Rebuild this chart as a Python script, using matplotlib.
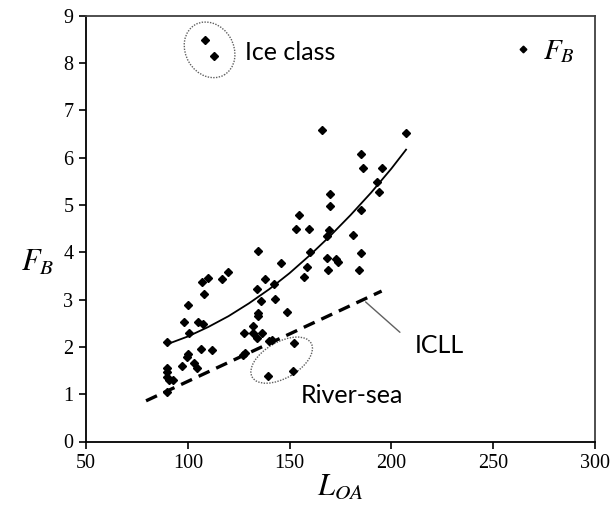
import matplotlib
matplotlib.use("Agg")
import matplotlib.pyplot as plt
from matplotlib.patches import Ellipse
from matplotlib.transforms import ScaledTranslation
from matplotlib.lines import Line2D

plt.rcParams['mathtext.fontset'] = 'stix'
plt.rcParams['font.family'] = ['Liberation Serif', 'DejaVu Serif']

# ---- data ----
loa = [108.4, 112.9,
       207.2, 166.1, 184.9, 186.2, 195.5, 192.8, 193.9, 169.8, 169.8, 184.9, 154.6,
       153.0, 159.5, 169.5, 168.2, 181.0, 134.3, 160.0, 185.1, 168.2, 172.6, 173.6,
       145.6, 158.7, 168.7, 184.2, 157.1, 137.9, 142.5, 134.0, 135.8, 142.8,
       106.8, 109.8, 107.8, 117.0, 119.9, 100.2, 98.3, 105.2, 107.3, 100.7, 89.9,
       100.2, 99.5, 97.0, 106.3, 112.0, 103.0, 104.4, 89.9, 89.9, 89.9, 90.8, 92.9, 89.9,
       134.3, 134.6, 148.9, 132.2, 127.8, 132.2, 136.3, 134.1, 140.0, 141.2, 152.3,
       128.1, 127.3,
       139.2, 151.8]
fb = [8.49, 8.14,
      6.53, 6.59, 6.08, 5.79, 5.79, 5.49, 5.28, 5.23, 4.98, 4.89, 4.79,
      4.49, 4.49, 4.47, 4.34, 4.37, 4.03, 4.01, 3.99, 3.87, 3.85, 3.79,
      3.78, 3.68, 3.63, 3.63, 3.48, 3.43, 3.33, 3.22, 2.98, 3.01,
      3.38, 3.45, 3.11, 3.44, 3.59, 2.88, 2.53, 2.53, 2.48, 2.29, 2.11,
      1.84, 1.78, 1.60, 1.95, 1.93, 1.65, 1.55, 1.55, 1.46, 1.37, 1.30, 1.29, 1.05,
      2.71, 2.65, 2.73, 2.45, 2.30, 2.29, 2.29, 2.19, 2.13, 2.15, 2.09,
      1.88, 1.83,
      1.39, 1.49]

trend_x = [91.3, 100, 110, 120, 130, 140, 150, 160, 170, 180, 190, 200, 207.2]
trend_y = [2.08, 2.22, 2.42, 2.65, 2.92, 3.22, 3.56, 3.94, 4.35, 4.79, 5.26, 5.77, 6.17]

icll_x = [79.5, 195.2]
icll_y = [0.86, 3.18]

x_ticks = [50, 100, 150, 200, 250, 300]
y_ticks = [0, 1, 2, 3, 4, 5, 6, 7, 8, 9]

# ---- figure ----
fig = plt.figure(figsize=(6.13, 5.08), dpi=100)
ax = fig.add_axes([86/613, 1-441.5/508, (595-86)/613, (441.5-15.8)/508])

ax.plot(trend_x, trend_y, color='black', lw=1.3, zorder=2)
ax.plot(icll_x, icll_y, color='black', lw=2.4, dashes=(3.6, 2.2), zorder=2)
ax.plot(loa, fb, linestyle='none', marker='D', markersize=4.1,
        color='black', zorder=3)

ax.set_xlim(50, 300)
ax.set_ylim(0, 9)
ax.set_xticks(x_ticks)
ax.set_yticks(y_ticks)
ax.tick_params(direction='out', length=5, width=1.2, labelsize=14.5,
               top=False, right=False, pad=4)
for s in ax.spines.values():
    s.set_linewidth(1.3)
    s.set_color('black')
ax.spines['top'].set_color('#404040')
ax.spines['right'].set_color('#404040')

ax.set_xlabel(r'$L_{OA}$', fontsize=22, labelpad=0)
ax.set_ylabel(r'$F_B$', fontsize=22, rotation=0, labelpad=14)
ax.yaxis.set_label_coords(-0.096, 0.385)

# ellipses (shape in inches, centred at data positions)
def ell(cx, cy, w_px, h_px, ang):
    tr = fig.dpi_scale_trans + ScaledTranslation(cx, cy, ax.transData)
    e = Ellipse((0, 0), w_px/100, h_px/100, angle=ang, transform=tr,
                fill=False, edgecolor='#606060', lw=1.0, linestyle=(0, (1, 1)))
    ax.add_patch(e)

ell(110.7, 8.28, 48, 58, 30)
ell(146.1, 1.72, 68, 36, 30)

tfont = ['Lato', 'DejaVu Sans']
ax.text(128.1, 8.23, 'Ice class', fontsize=18, family=tfont, va='center', ha='left')
ax.text(155.5, 0.98, 'River-sea', fontsize=18, family=tfont, va='center', ha='left')
ax.text(211.5, 2.04, 'ICLL', fontsize=18, family=tfont, va='center', ha='left')
ax.annotate('', xy=(186.3, 2.99), xytext=(205.2, 2.27),
            arrowprops=dict(arrowstyle='-', color='#606060', lw=1.0))

h = Line2D([], [], linestyle='none', marker='D', markersize=3.4, color='black')
ax.legend([h], [r'$F_B$'], loc='center left', bbox_to_anchor=(0.835, 0.915),
          frameon=False, fontsize=21, handlelength=0.8, handletextpad=0.3,
          borderpad=0, borderaxespad=0)

fig.savefig('out.png', dpi=100)
